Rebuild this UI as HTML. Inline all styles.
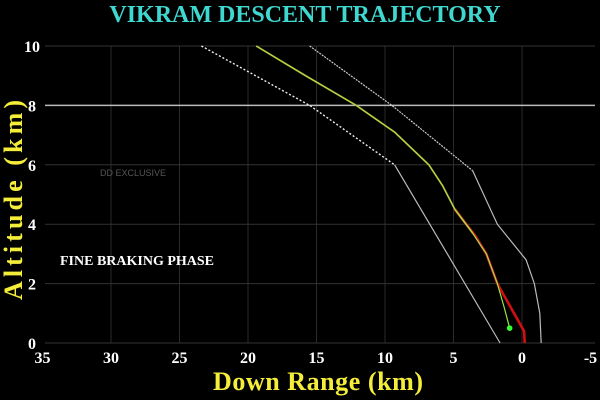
<!DOCTYPE html>
<html><head><meta charset="utf-8"><style>
body{margin:0;background:#000;width:600px;height:400px;overflow:hidden}
svg{display:block}
</style></head><body>
<svg width="600" height="400">
<rect width="600" height="400" fill="#000"/>
<text x="305" y="22" text-anchor="middle" font-family="Liberation Serif, serif" font-weight="bold" font-size="24" fill="#3fd8d0">VIKRAM DESCENT TRAJECTORY</text>
<g id="grid"></g>
<g id="ticks" font-family="Liberation Serif, serif" font-weight="bold" font-size="16" fill="#fff"></g>
<text x="100" y="176" font-family="Liberation Sans, sans-serif" font-size="9" fill="#555">DD EXCLUSIVE</text>
<text x="60" y="265" font-family="Liberation Serif, serif" font-weight="bold" font-size="14" fill="#fff">FINE BRAKING PHASE</text>
<text x="318" y="390" text-anchor="middle" font-family="Liberation Serif, serif" font-weight="bold" font-size="26" fill="#f4ee3a" textLength="210">Down Range (km)</text>
<text transform="translate(22,200) rotate(-90)" text-anchor="middle" font-family="Liberation Serif, serif" font-weight="bold" font-size="26" fill="#f4ee3a" textLength="200">Altitude (km)</text>
<g id="series"></g>
</svg>
<script>
const xTicks=[35,30,25,20,15,10,5,0,-5];
const yTicks=[0,2,4,6,8,10];
const leftX=[23.4,15.5,9.3,1.6];
const leftY=[10,8,6,0];
const rightX=[15.5,9.5,3.6,1.8,-0.3,-0.9,-1.3,-1.4];
const rightY=[10,8,5.8,4,2.8,2,1,0];
const redX=[4.9,3.4,2.6,1.8,-0.15,-0.2];
const redY=[4.5,3.6,3,2,0.4,0];
const trajX=[19.4,15.8,12.1,9.3,6.8,5.8,4.9,3.6,2.6,1.8,1.3,0.9];
const trajY=[10,9,8,7.1,6,5.3,4.5,3.7,3,2,1.2,0.5];
const sx=v=>522-v*13.7, sy=v=>343-v*29.7;
const NS='http://www.w3.org/2000/svg';
const grid=document.getElementById('grid'),ticks=document.getElementById('ticks'),ser=document.getElementById('series');
function el(t,p,a){const e=document.createElementNS(NS,t);for(const k in a)e.setAttribute(k,a[k]);p.appendChild(e);return e;}
xTicks.forEach(v=>{
 if(v<35&&v>-5){const l=el('line',grid,{x1:sx(v),x2:sx(v),y1:sy(10),y2:sy(0),stroke:'#2a2a2a','stroke-width':1});
 
 }
 const t=el('text',ticks,{x:sx(v),y:363,'text-anchor':'middle'});t.textContent=v;
 
 
});
yTicks.forEach(v=>{
 const l=el('line',grid,{x1:45,x2:595,y1:sy(v),y2:sy(v),stroke:v==8?'#bbb':'#333','stroke-width':v==8?1.5:1});
 
 
 const t=el('text',ticks,{x:32,y:sy(v)+6,'text-anchor':'middle'});t.textContent=v;
 
 
});
const pts=(X,Y)=>X.map((x,i)=>sx(x)+','+sy(Y[i])).join(' ');
let p=el('polyline',ser,{points:pts(leftX.slice(0,3),leftY.slice(0,3)),fill:'none',stroke:'#eee','stroke-width':1.4,'stroke-dasharray':'2,2'});


p=el('polyline',ser,{points:pts(leftX.slice(2),leftY.slice(2)),fill:'none',stroke:'#bbb','stroke-width':1.2});


p=el('polyline',ser,{points:pts(rightX.slice(0,3),rightY.slice(0,3)),fill:'none',stroke:'#ccc','stroke-width':1.2,'stroke-dasharray':'2,1'});


p=el('polyline',ser,{points:pts(rightX.slice(2),rightY.slice(2)),fill:'none',stroke:'#bbb','stroke-width':1.2});


p=el('polyline',ser,{points:pts(redX,redY),fill:'none',stroke:'#d01010','stroke-width':2.6});


p=el('polyline',ser,{points:pts(trajX.slice(0,8),trajY.slice(0,8)),fill:'none',stroke:'#c87a20','stroke-width':1.8});


p=el('polyline',ser,{points:pts(trajX,trajY),fill:'none',stroke:'#9be34a','stroke-width':1.2});


const last=trajX.length-1;
p=el('circle',ser,{cx:sx(trajX[last]),cy:sy(trajY[last]),r:2.8,fill:'#3f3'});


</script>
</body></html>
